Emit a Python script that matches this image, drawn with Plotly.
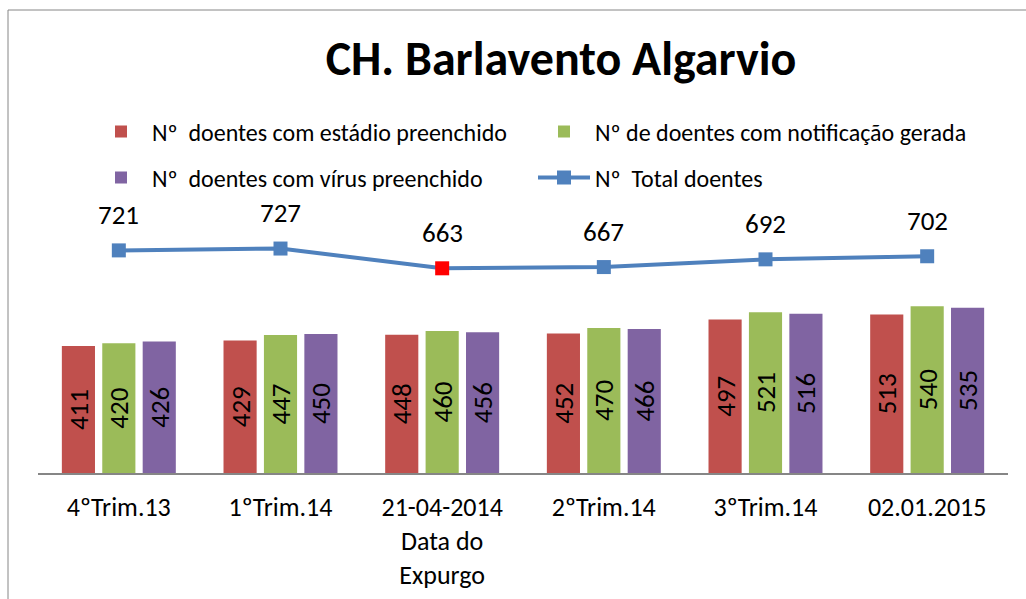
import plotly.graph_objects as go

categories = ["4ºTrim.13", "1ºTrim.14", "21-04-2014<br>Data do<br>Expurgo", "2ºTrim.14", "3ºTrim.14", "02.01.2015"]
estadio = [411, 429, 448, 452, 497, 513]
notificacao = [420, 447, 460, 470, 521, 540]
virus = [426, 450, 456, 466, 516, 535]
total = [721, 727, 663, 667, 692, 702]

names = ["Nº  doentes com estádio preenchido", "Nº de doentes com notificação gerada",
         "Nº  doentes com vírus preenchido", "Nº  Total doentes"]
colors = ["#C0504D", "#9BBB59", "#8064A2", "#4F81BD"]
marker_colors = ["#4F81BD", "#4F81BD", "#FF0000", "#4F81BD", "#4F81BD", "#4F81BD"]

FONT = "Calibri, Carlito, Lato, sans-serif"
W, HH = 1026, 599

fig = go.Figure()
for vals, name, col, lg in [(estadio, names[0], colors[0], "legend"),
                            (notificacao, names[1], colors[1], "legend"),
                            (virus, names[2], colors[2], "legend2")]:
    fig.add_trace(go.Bar(
        x=categories, y=vals, name=name, marker_color=col, legend=lg,
        texttemplate="%{y}", textposition="inside", insidetextanchor="middle",
        textangle=-90, textfont=dict(size=27, color="black", family=FONT),
        marker_line_width=0,
    ))

fig.add_trace(go.Scatter(
    x=categories, y=total, name=names[3], mode="lines+markers", legend="legend2",
    line=dict(color=colors[3], width=4),
    marker=dict(symbol="square", size=14, color=marker_colors),
    cliponaxis=False,
))

annotations = [dict(x=c, y=v, text=str(v), showarrow=False, yshift=36,
                    font=dict(size=27, color="black", family=FONT))
               for c, v in zip(categories, total)]

L, R, T, B = 38, 18, 226, 126

def py(Y):
    return (HH - B - Y) / (HH - T - B)

def px(X):
    return (X - L) / (W - L - R)

legend_common = dict(orientation="h", xref="container", yref="container",
                     x=90 / W, xanchor="left", yanchor="middle",
                     font=dict(size=24, family=FONT), itemwidth=52,
                     entrywidth=376, entrywidthmode="pixels", bgcolor="rgba(0,0,0,0)")

fig.update_layout(
    width=W, height=HH,
    margin=dict(l=L, r=R, t=T, b=B, autoexpand=False),
    paper_bgcolor="white", plot_bgcolor="white",
    font=dict(family=FONT, color="black"),
    barmode="group", bargap=0.25, bargroupgap=0.18,
    uniformtext=dict(minsize=27, mode="show"),
    title=dict(text="<b>CH. Barlavento Algarvio</b>", x=561 / W, xanchor="center",
               y=1 - 58 / HH, yanchor="middle", font=dict(size=48, family=FONT)),
    legend=dict(legend_common, y=1 - 132 / HH),
    legend2=dict(legend_common, y=1 - 178 / HH),
    xaxis=dict(showline=True, linecolor="#868686", linewidth=2, ticks="",
               tickfont=dict(size=26, family=FONT), range=[-0.5, 5.5], fixedrange=True,
               automargin=False, ticklabelstandoff=10),
    yaxis=dict(visible=False, range=[0, 800], showgrid=False, zeroline=False, fixedrange=True),
    annotations=annotations,
    shapes=[dict(type="rect", xref="paper", yref="paper",
                 x0=px(8), x1=px(1100), y0=py(10), y1=py(700),
                 line=dict(color="#868686", width=1), layer="below")],
)

fig.write_html("out.html", config={"displayModeBar": False},
               post_script="document.body.style.margin='0';document.body.style.overflow='hidden';")
